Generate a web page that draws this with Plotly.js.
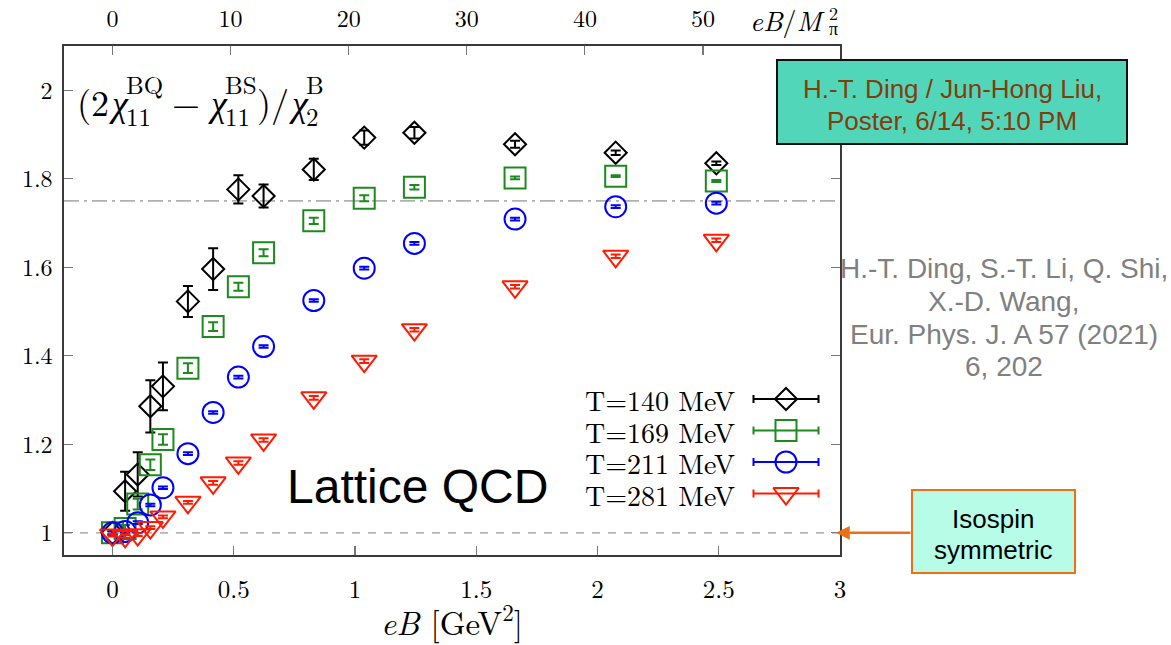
<!DOCTYPE html>
<html>
<head>
<meta charset="utf-8">
<script src="https://cdn.plot.ly/plotly-3.0.1.min.js"></script>
<style>
  html, body { margin: 0; padding: 0; background: #ffffff; }
  #chart { width: 1171px; height: 645px; }
</style>
</head>
<body>
<div id="chart"></div>
<script>
// ---------------- data ----------------
const eB = [0, 0.052, 0.104, 0.156, 0.208, 0.311, 0.415, 0.519, 0.623, 0.830, 1.038, 1.245, 1.660, 2.075, 2.490];

const T140 = [1.000, 1.094, 1.132, 1.286, 1.331, 1.523, 1.596, 1.776, 1.761, 1.821, 1.893, 1.904, 1.878, 1.859, 1.835];
const T140err = [0.005, 0.044, 0.050, 0.059, 0.054, 0.035, 0.047, 0.032, 0.026, 0.024, 0.016, 0.013, 0.008, 0.005, 0.004];

const T169 = [1.000, 1.010, 1.065, 1.154, 1.211, 1.372, 1.466, 1.556, 1.633, 1.705, 1.756, 1.781, 1.802, 1.806, 1.795];
const T169err = [0.004, 0.008, 0.012, 0.012, 0.012, 0.011, 0.010, 0.009, 0.008, 0.007, 0.007, 0.005, 0.003, 0.002, 0.002];

const T211 = [1.000, 1.003, 1.023, 1.063, 1.102, 1.179, 1.272, 1.352, 1.421, 1.525, 1.598, 1.654, 1.709, 1.737, 1.745];
const T211err = [0.003, 0.003, 0.003, 0.003, 0.003, 0.003, 0.003, 0.003, 0.003, 0.003, 0.003, 0.003, 0.003, 0.003, 0.003];

const T281 = [0.995, 0.992, 0.996, 1.012, 1.036, 1.069, 1.113, 1.158, 1.210, 1.305, 1.388, 1.459, 1.556, 1.625, 1.661];
const T281err = [0.003, 0.003, 0.003, 0.003, 0.003, 0.003, 0.004, 0.004, 0.004, 0.004, 0.004, 0.004, 0.004, 0.004, 0.004];

const seriesNames = ["T=140 MeV", "T=169 MeV", "T=211 MeV", "T=281 MeV"];
const seriesY = [T140, T169, T211, T281];
const seriesErr = [T140err, T169err, T211err, T281err];

const xTicks = [0, 0.5, 1, 1.5, 2, 2.5, 3];
const xTopTicks = [0, 10, 20, 30, 40, 50];
const yTicks = [1, 1.2, 1.4, 1.6, 1.8, 2];

const MPI2 = 0.0487;        // M_pi^2 in GeV^2 (top axis conversion)
const isospinRef = 1.0;     // isospin-symmetric value
const refLine = 1.75;       // dash-dot reference

// ---------------- styling ----------------
const colors = ["#000000", "#1e8a1e", "#0000ff", "#ff1a00"];
const symbols = ["diamond-open", "square-open", "circle-open", "triangle-down-open"];
const sizes = [17, 21, 21, 22];

const W = 1171, H = 645;
const PL = 64, PR = 840, PT = 46, PB = 555;
const px = v => (v - PL) / (PR - PL);
const py = v => (PB - v) / (PB - PT);

const serif = "CMU Serif, Latin Modern Roman, Liberation Serif, DejaVu Serif, serif";
const sans = "Liberation Sans, Arial, Helvetica, sans-serif";

// text measuring for hand-set math labels
const cvs = document.createElement("canvas").getContext("2d");
function tw(text, size, italic) {
  cvs.font = (italic ? "italic " : "") + size + 'px "CMU Serif", "Latin Modern Roman", "Liberation Serif", "DejaVu Serif", serif';
  return cvs.measureText(text).width;
}

const traces = [];
for (let i = 0; i < 4; i++) {
  traces.push({
    type: "scatter", mode: "markers",
    x: eB, y: seriesY[i], name: seriesNames[i],
    xaxis: "x", yaxis: "y",
    marker: { symbol: symbols[i], size: sizes[i], color: colors[i], line: { width: 2, color: colors[i] } },
    error_y: { type: "data", array: seriesErr[i], visible: true, color: colors[i], thickness: 2, width: 5 },
    showlegend: false, hoverinfo: "x+y"
  });
}
// invisible trace to attach the top axis (eB / M_pi^2)
traces.push({
  type: "scatter", mode: "markers",
  x: eB.map(v => v / MPI2), y: T140,
  xaxis: "x2", yaxis: "y",
  marker: { opacity: 0, size: 1 }, showlegend: false, hoverinfo: "skip"
});
// custom legend keys (symbol with horizontal error bar), in an overlay pixel frame
const legRowY = [399, 430.5, 462, 493.5];
for (let i = 0; i < 4; i++) {
  traces.push({
    type: "scatter", mode: "markers",
    x: [786], y: [legRowY[i]],
    xaxis: "x3", yaxis: "y3",
    marker: { symbol: symbols[i], size: sizes[i], color: colors[i], line: { width: 2, color: colors[i] } },
    error_x: { type: "constant", value: 32.5, visible: true, color: colors[i], thickness: 2, width: 4 },
    showlegend: false, hoverinfo: "skip"
  });
}

const axisLine = "#3a3a3a";
const tickCol = "#777777";

function txt(x, y, text, size, opts) {
  return Object.assign({ xref: "paper", yref: "paper", x: px(x), y: py(y), xanchor: "left", yanchor: "middle",
    text: text, showarrow: false, borderpad: 0, font: { family: serif, size: size, color: "#000" } }, opts || {});
}

const annotations = [];

// y-quantity label inside plot, with stacked super/subscripts
(function () {
  const M = 36, S = 25, yM = 100, ySup = 83, ySub = 115;
  let x = 76;
  function main(t, it) { annotations.push(txt(x, yM, it ? "<i>" + t + "</i>" : t, M)); x += tw(t, M, it); }
  function supsub(a, b) {
    annotations.push(txt(x + 1, ySup, a, S));
    annotations.push(txt(x + 1, ySub, b, S));
    x += Math.max(tw(a, S), tw(b, S)) + 2;
  }
  main("(2"); main("χ", true); supsub("BQ", "11");
  x += 0.22 * M; main("−"); x += 0.22 * M;
  main("χ", true); supsub("BS", "11");
  main(")/"); main("χ", true); supsub("B", "2");
})();

// top axis title eB/M_pi^2
(function () {
  const M = 28, S = 18, xEnd = 837, yM = 19;
  const wS = Math.max(tw("2", S), tw("π", S));
  const xS = xEnd - wS;
  annotations.push(txt(xS - 1, yM, "<i>eB</i>/<i>M</i>", M, { xanchor: "right" }));
  annotations.push(txt(xS, 13, "2", S));
  annotations.push(txt(xS, 28, "π", S));
})();

annotations.push(
  // Lattice QCD
  txt(417, 486, "Lattice QCD", 48, { xanchor: "center", font: { family: sans, size: 48, color: "#000" } }),
  // teal box text
  txt(952, 89, "H.-T. Ding / Jun-Hong Liu,", 26, { xanchor: "center", font: { family: sans, size: 26, color: "#843c0c" } }),
  txt(952, 121, "Poster, 6/14, 5:10 PM", 26, { xanchor: "center", font: { family: sans, size: 26, color: "#843c0c" } }),
  // citation
  txt(1004, 268, "H.-T. Ding, S.-T. Li, Q. Shi,", 28, { xanchor: "center", font: { family: sans, size: 28, color: "#808080" } }),
  txt(1004, 301, "X.-D. Wang,", 28, { xanchor: "center", font: { family: sans, size: 28, color: "#808080" } }),
  txt(1004, 334, "Eur. Phys. J. A 57 (2021)", 28, { xanchor: "center", font: { family: sans, size: 28, color: "#808080" } }),
  txt(1004, 366, "6, 202", 28, { xanchor: "center", font: { family: sans, size: 28, color: "#808080" } }),
  // isospin box text
  txt(993, 519, "Isospin", 26, { xanchor: "center", font: { family: sans, size: 26, color: "#000" } }),
  txt(993, 550, "symmetric", 26, { xanchor: "center", font: { family: sans, size: 26, color: "#000" } }),
  // arrow to the isospin-symmetric line
  { xref: "paper", yref: "y", x: px(836), y: isospinRef, ax: 912 - 836, ay: 0,
    text: "", showarrow: true, arrowhead: 2, arrowsize: 1.1, arrowwidth: 2.5, arrowcolor: "#ed7014",
    standoff: 0 }
);
// legend texts
for (let i = 0; i < 4; i++) {
  annotations.push(txt(736, legRowY[i], seriesNames[i], 28, { xanchor: "right" }));
}

const shapes = [
  { type: "line", xref: "paper", yref: "y", x0: 0, x1: 1, y0: isospinRef, y1: isospinRef,
    line: { color: "#b5b5b5", width: 1.6, dash: "8px,8px" }, layer: "below" },
  { type: "line", xref: "paper", yref: "y", x0: 0, x1: 1, y0: refLine, y1: refLine,
    line: { color: "#b0b0b0", width: 1.6, dash: "15px,5px,3px,5px" }, layer: "below" },
  // teal box
  { type: "rect", xref: "paper", yref: "paper", x0: px(777), x1: px(1127), y0: py(60), y1: py(144),
    fillcolor: "#52d6b9", line: { color: "#111111", width: 2 }, layer: "above" },
  // isospin box
  { type: "rect", xref: "paper", yref: "paper", x0: px(912), x1: px(1075), y0: py(490), y1: py(573),
    fillcolor: "#b6fce6", line: { color: "#ed7014", width: 2 }, layer: "above" }
];

const layout = {
  width: W, height: H,
  margin: { l: PL, r: W - PR, t: PT, b: H - PB, pad: 0 },
  paper_bgcolor: "#ffffff", plot_bgcolor: "#ffffff",
  showlegend: false,
  xaxis: {
    range: [-0.2, 3.0], tickvals: xTicks, ticktext: xTicks.map(String),
    ticks: "inside", ticklen: 9, tickwidth: 1.2, tickcolor: tickCol,
    showline: true, linecolor: axisLine, linewidth: 1.6, mirror: false,
    showgrid: false, zeroline: false, ticklabelstandoff: 11,
    tickfont: { family: serif, size: 25, color: "#000" },
    title: { text: "<i>eB</i> [GeV<sup>2</sup>]", font: { family: serif, size: 33, color: "#000" }, standoff: 6 }
  },
  xaxis2: {
    overlaying: "x", side: "top", anchor: "y",
    range: [-0.2 / MPI2, 3.0 / MPI2], tickvals: xTopTicks, ticktext: xTopTicks.map(String),
    ticks: "inside", ticklen: 9, tickwidth: 1.2, tickcolor: tickCol,
    showline: true, linecolor: axisLine, linewidth: 1.6,
    showgrid: false, zeroline: false, ticklabelstandoff: 8,
    tickfont: { family: serif, size: 24, color: "#000" }
  },
  yaxis: {
    range: [0.95, 2.1], tickvals: yTicks, ticktext: yTicks.map(String),
    ticks: "inside", ticklen: 9, tickwidth: 1.2, tickcolor: tickCol,
    showline: true, linecolor: axisLine, linewidth: 1.6, mirror: "ticks",
    showgrid: false, zeroline: false, ticklabelstandoff: 5,
    tickfont: { family: serif, size: 24, color: "#000" }
  },
  xaxis3: { overlaying: "x", range: [PL, PR], visible: false, fixedrange: true },
  yaxis3: { overlaying: "y", range: [PB, PT], visible: false, fixedrange: true },
  annotations: annotations,
  shapes: shapes
};

Plotly.newPlot("chart", traces, layout, { displayModeBar: false, staticPlot: true });
</script>
</body>
</html>
